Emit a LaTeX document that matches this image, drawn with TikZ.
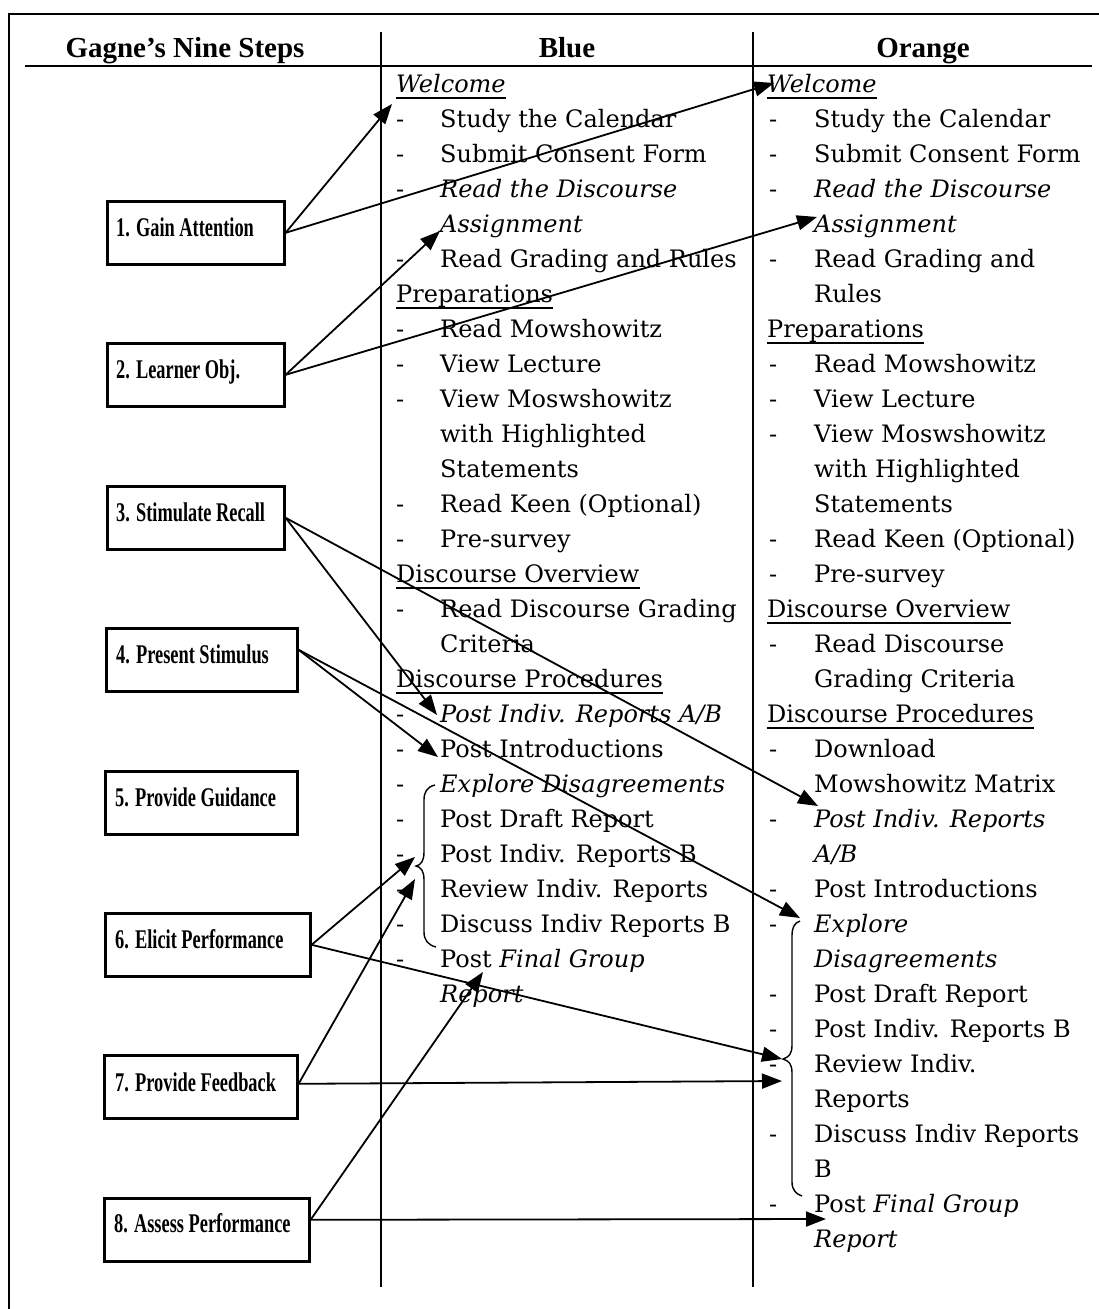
\documentclass[tikz,border=0pt]{standalone}
\usepackage{fontspec}
\usepackage{graphicx}
\setmainfont{DejaVu Serif}
\newfontfamily\hdfont{Liberation Serif}
\usetikzlibrary{arrows.meta}
\newcommand\BL[4]{\node[#1] (#2) at (440,92+35*#3) {#4};}
\newcommand\BD[2]{\node[txt] (#1) at (396,92+35*#2) {-};}
\newcommand\OL[4]{\node[#1] (#2) at (814,92+35*#3) {#4};}
\newcommand\OD[2]{\node[txt] (#1) at (769,92+35*#2) {-};}
\newcommand\UL[1]{\draw[uline] ([yshift=-6pt]#1.base west) -- ([yshift=-6pt]#1.base east);}
\begin{document}
\begin{tikzpicture}[x=1pt,y=-1pt,
  txt/.style={anchor=base west, inner sep=0pt, font=\fontsize{24}{28}\selectfont},
  itx/.style={anchor=base west, inner sep=0pt, font=\fontsize{24}{28}\selectfont\itshape},
  hdr/.style={anchor=base, inner sep=0pt, font=\hdfont\bfseries\fontsize{29}{32}\selectfont},
  gbox/.style={draw, line width=2.6pt, anchor=north west, minimum height=63pt, inner sep=0pt},
  glab/.style={anchor=base west, inner sep=0pt, font=\hdfont\bfseries\fontsize{27}{30}\selectfont},
  conn/.style={line width=1.8pt, -{Triangle[length=20pt,width=15pt]}},
  rule/.style={line width=1.8pt},
  brc/.style={line width=1.4pt},
  uline/.style={line width=1.4pt}]
\fill[white] (0,0) rectangle (1099,1309);
\useasboundingbox (0,0) rectangle (1099,1309);
% frame and table rules
\draw[rule] (1099,14) -- (9,14) -- (9,1309);
\draw[rule] (25,66) -- (1092,66);
\draw[rule] (381,32) -- (381,1287);
\draw[rule] (753,32) -- (753,1287);
% headers
\node[hdr] (h1) at (185,57) {Gagne’s Nine Steps};
\node[hdr] (h2) at (567,57) {Blue};
\node[hdr] (h3) at (923,57) {Orange};
% Gagne boxes
\node[gbox, minimum width=177pt] (g1) at (106,200) {};
\node[gbox, minimum width=177pt] (g2) at (106,342) {};
\node[gbox, minimum width=177pt] (g3) at (106,485) {};
\node[gbox, minimum width=191pt] (g4) at (105,627) {};
\node[gbox, minimum width=192pt] (g5) at (104,770) {};
\node[gbox, minimum width=205pt] (g6) at (104,912) {};
\node[gbox, minimum width=193pt] (g7) at (103,1054) {};
\node[gbox, minimum width=205pt] (g8) at (103,1197) {};
\node[glab] (gl1) at (116,236) {\scalebox{0.68}[1]{1. Gain Attention}};
\node[glab] (gl2) at (116,378) {\scalebox{0.68}[1]{2. Learner Obj.}};
\node[glab] (gl3) at (116,521) {\scalebox{0.68}[1]{3. Stimulate Recall}};
\node[glab] (gl4) at (116,663) {\scalebox{0.68}[1]{4. Present Stimulus}};
\node[glab] (gl5) at (115,806) {\scalebox{0.68}[1]{5. Provide Guidance}};
\node[glab] (gl6) at (115,948) {\scalebox{0.68}[1]{6. Elicit Performance}};
\node[glab] (gl7) at (115,1091) {\scalebox{0.68}[1]{7. Provide Feedback}};
\node[glab] (gl8) at (114,1232) {\scalebox{0.68}[1]{8. Assess Performance}};
% Blue column
\node[itx] (u0) at (396,92) {Welcome}; \UL{u0}
\BD{ud1}{1}\BL{txt}{u1}{1}{Study the Calendar}
\BD{ud2}{2}\BL{txt}{u2}{2}{Submit Consent Form}
\BD{ud3}{3}\BL{itx}{u3}{3}{Read the Discourse}
\BL{itx}{u4}{4}{Assignment}
\BD{ud5}{5}\BL{txt}{u5}{5}{Read Grading and Rules}
\node[txt] (u6) at (396,92+35*6) {Preparations}; \UL{u6}
\BD{ud7}{7}\BL{txt}{u7}{7}{Read Mowshowitz}
\BD{ud8}{8}\BL{txt}{u8}{8}{View Lecture}
\BD{ud9}{9}\BL{txt}{u9}{9}{View Moswshowitz}
\BL{txt}{u10}{10}{with Highlighted}
\BL{txt}{u11}{11}{Statements}
\BD{ud12}{12}\BL{txt}{u12}{12}{Read Keen (Optional)}
\BD{ud13}{13}\BL{txt}{u13}{13}{Pre-survey}
\node[txt] (u14) at (396,92+35*14) {Discourse Overview}; \UL{u14}
\BD{ud15}{15}\BL{txt}{u15}{15}{Read Discourse Grading}
\BL{txt}{u16}{16}{Criteria}
\node[txt] (u17) at (396,92+35*17) {Discourse Procedures}; \UL{u17}
\BD{ud18}{18}\BL{itx}{u18}{18}{Post Indiv. Reports A/B}
\BD{ud19}{19}\BL{txt}{u19}{19}{Post Introductions}
\BD{ud20}{20}\BL{itx}{u20}{20}{Explore Disagreements}
\BD{ud21}{21}\BL{txt}{u21}{21}{Post Draft Report}
\BD{ud22}{22}\BL{txt}{u22}{22}{Post Indiv. Reports B}
\BD{ud23}{23}\BL{txt}{u23}{23}{Review Indiv. Reports}
\BD{ud24}{24}\BL{txt}{u24}{24}{Discuss Indiv Reports B}
\BD{ud25}{25}\BL{txt}{u25}{25}{Post \textit{Final Group}}
\BL{itx}{u26}{26}{Report}
% Orange column
\node[itx] (o0) at (767,92) {Welcome}; \UL{o0}
\OD{od1}{1}\OL{txt}{o1}{1}{Study the Calendar}
\OD{od2}{2}\OL{txt}{o2}{2}{Submit Consent Form}
\OD{od3}{3}\OL{itx}{o3}{3}{Read the Discourse}
\OL{itx}{o4}{4}{Assignment}
\OD{od5}{5}\OL{txt}{o5}{5}{Read Grading and}
\OL{txt}{o6}{6}{Rules}
\node[txt] (o7) at (767,92+35*7) {Preparations}; \UL{o7}
\OD{od8}{8}\OL{txt}{o8}{8}{Read Mowshowitz}
\OD{od9}{9}\OL{txt}{o9}{9}{View Lecture}
\OD{od10}{10}\OL{txt}{o10}{10}{View Moswshowitz}
\OL{txt}{o11}{11}{with Highlighted}
\OL{txt}{o12}{12}{Statements}
\OD{od13}{13}\OL{txt}{o13}{13}{Read Keen (Optional)}
\OD{od14}{14}\OL{txt}{o14}{14}{Pre-survey}
\node[txt] (o15) at (767,92+35*15) {Discourse Overview}; \UL{o15}
\OD{od16}{16}\OL{txt}{o16}{16}{Read Discourse}
\OL{txt}{o17}{17}{Grading Criteria}
\node[txt] (o18) at (767,92+35*18) {Discourse Procedures}; \UL{o18}
\OD{od19}{19}\OL{txt}{o19}{19}{Download}
\OL{txt}{o20}{20}{Mowshowitz Matrix}
\OD{od21}{21}\OL{itx}{o21}{21}{Post Indiv. Reports}
\OL{itx}{o22}{22}{A/B}
\OD{od23}{23}\OL{txt}{o23}{23}{Post Introductions}
\OD{od24}{24}\OL{itx}{o24}{24}{Explore}
\OL{itx}{o25}{25}{Disagreements}
\OD{od26}{26}\OL{txt}{o26}{26}{Post Draft Report}
\OD{od27}{27}\OL{txt}{o27}{27}{Post Indiv. Reports B}
\OD{od28}{28}\OL{txt}{o28}{28}{Review Indiv.}
\OL{txt}{o29}{29}{Reports}
\OD{od30}{30}\OL{txt}{o30}{30}{Discuss Indiv Reports}
\OL{txt}{o31}{31}{B}
\OD{od32}{32}\OL{txt}{o32}{32}{Post \textit{Final Group}}
\OL{itx}{o33}{33}{Report}
% braces
\draw[brc] (435,785) .. controls (427,787) and (424,792) .. (424,800) -- (424,852)
  .. controls (424,861) and (421,865) .. (416,866) .. controls (421,867) and (424,871) .. (424,880)
  -- (424,932) .. controls (424,940) and (428,945) .. (436,947);
\draw[brc] (800,921) .. controls (794,923) and (792,928) .. (792,936) -- (792,1045)
  .. controls (792,1054) and (789,1057) .. (783,1059) .. controls (789,1061) and (792,1064) .. (792,1073)
  -- (792,1182) .. controls (792,1190) and (796,1194) .. (802,1196);
% arrow targets
\coordinate (t1a) at (392,104);
\coordinate (t1b) at (774,83);
\coordinate (t2a) at (440,231);
\coordinate (t2b) at (817,217);
\coordinate (t3a) at (437,715);
\coordinate (t3b) at (818,806);
\coordinate (t4a) at (438,757);
\coordinate (t4b) at (800,918);
\coordinate (t6a) at (415,857);
\coordinate (t6b) at (782,1059);
\coordinate (t7a) at (415,879);
\coordinate (t7b) at (782,1081);
\coordinate (t8a) at (483,972);
\coordinate (t8b) at (826,1219);
% connectors
\draw[conn] (g1.east) -- (t1a);
\draw[conn] (g1.east) -- (t1b);
\draw[conn] (g2.east) -- (t2a);
\draw[conn] (g2.east) -- (t2b);
\draw[conn] (g3.east) -- (t3a);
\draw[conn] (g3.east) -- (t3b);
\draw[conn] ([yshift=10pt]g4.east) -- (t4a);
\draw[conn] ([yshift=10pt]g4.east) -- (t4b);
\draw[conn] (g6.east) -- (t6a);
\draw[conn] (g6.east) -- (t6b);
\draw[conn] ([yshift=3pt]g7.east) -- (t7a);
\draw[conn] ([yshift=3pt]g7.east) -- (t7b);
\draw[conn] ([yshift=10pt]g8.east) -- (t8a);
\draw[conn] ([yshift=10pt]g8.east) -- (t8b);
\end{tikzpicture}
\end{document}
